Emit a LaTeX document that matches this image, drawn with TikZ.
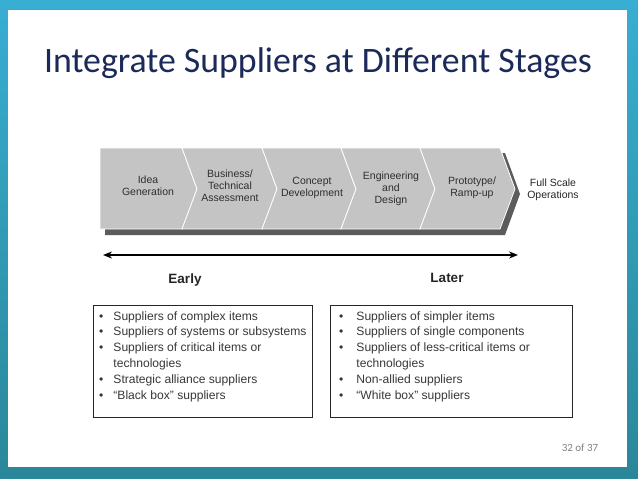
\documentclass[tikz,border=0pt]{standalone}
\usepackage{fontspec}
\setmainfont{Liberation Sans}
\newfontfamily\titlefont{Carlito}
\usetikzlibrary{arrows.meta}
\definecolor{frametop}{HTML}{38AED2}
\definecolor{framebottom}{HTML}{2A8799}
\definecolor{titlenavy}{HTML}{1B2A59}
\definecolor{stagegray}{HTML}{C4C4C4}
\definecolor{shadowgray}{HTML}{5C5C5C}
\definecolor{inkgray}{HTML}{2E2E2E}
\definecolor{pagegray}{HTML}{808080}

\begin{document}
\begin{tikzpicture}[x=1pt, y=-1pt,
  stagetext/.style={align=center, inner sep=0pt, text=inkgray,
    font=\fontsize{10.5}{12}\selectfont},
  stagelabel/.style={inner sep=0pt, text=black!85,
    font=\bfseries\fontsize{13.5}{16}\selectfont},
  listbox/.style={draw=black!85, line width=1pt},
  listtext/.style={inner sep=0pt, text=black!78, anchor=base west,
    font=\fontsize{12.1}{15.9}\selectfont}]
  % slide frame
  \shade[top color=frametop, bottom color=framebottom] (0,0) rectangle (638,479);
  \fill[white] (8,10) rectangle (627,467);
  \useasboundingbox (0,0) rectangle (638,479);
  \node[anchor=base, inner sep=0pt, text=titlenavy,
    font=\titlefont\fontsize{35.8}{42}\selectfont] (title) at (318,72)
    {Integrate Suppliers at Different Stages};
  % stage chevrons: shadow first, then the grey bar
  \fill[shadowgray] (105,153) -- (505,153) -- (520,194) -- (505,235) -- (105,235) -- cycle;
  \foreach \xa/\xb in {100/182, 182/262, 262/341, 341/420, 420/500} {
    \filldraw[fill=stagegray, draw=white, line width=0.8pt]
      (\xa,148) -- (\xb,148) -- (\xb+15,189) -- (\xb,229) -- (\xa,229)
      \ifnum\xa>100 -- (\xa+15,189) \fi -- cycle;
  }
  \node[stagetext] (idea) at (148,186) {Idea\\Generation};
  \node[stagetext] (business) at (230,186) {Business/\\Technical\\Assessment};
  \node[stagetext] (concept) at (312,188) {Concept\\Development};
  \node[stagetext] (engineering) at (391,189) {Engineering\\and\\Design};
  \node[stagetext] (prototype) at (472,188) {Prototype/\\Ramp-up};
  \node[stagetext, text=black!85] (fullscale) at (553,190) {Full Scale\\Operations};
  % early / later axis
  \coordinate (earlyend) at (103,255);
  \coordinate (laterend) at (518,255);
  \draw[line width=1.6pt, {Stealth[length=9pt,width=7pt]}-{Stealth[length=9pt,width=7pt]}]
    (earlyend) -- (laterend);
  \node[stagelabel] (early) at (185,280) {Early};
  \node[stagelabel] (later) at (447,278) {Later};
  % supplier lists
  \draw[listbox] (93,305) rectangle (312,417);
  \draw[listbox] (330,305) rectangle (572,417);
  \node[listtext] (earlylist) at (99,320) {%
    \begin{tabular}[t]{@{}l@{\hspace{10pt}}l@{}}
      \textbullet & Suppliers of complex items\\
      \textbullet & Suppliers of systems or subsystems\\
      \textbullet & Suppliers of critical items or\\
                  & technologies\\
      \textbullet & Strategic alliance suppliers\\
      \textbullet & ``Black box'' suppliers
    \end{tabular}};
  \node[listtext] (laterlist) at (339,320) {%
    \begin{tabular}[t]{@{}l@{\hspace{13pt}}l@{}}
      \textbullet & Suppliers of simpler items\\
      \textbullet & Suppliers of single components\\
      \textbullet & Suppliers of less-critical items or\\
                  & technologies\\
      \textbullet & Non-allied suppliers\\
      \textbullet & ``White box'' suppliers
    \end{tabular}};
  \node[anchor=base, inner sep=0pt, text=pagegray,
    font=\titlefont\fontsize{11}{13}\selectfont] (pagenum) at (580,451) {32 of 37};
\end{tikzpicture}
\end{document}
